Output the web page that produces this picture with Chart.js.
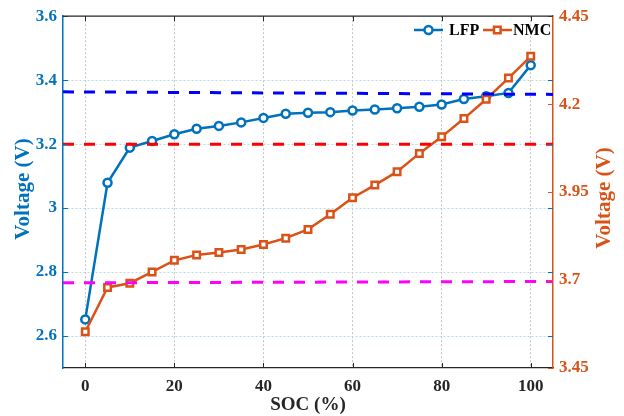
<!DOCTYPE html>
<html>
<head>
<meta charset="utf-8">
<script src="https://cdn.jsdelivr.net/npm/chart.js@4"></script>
<style>
  html, body { margin: 0; padding: 0; background: #fff; }
  #wrap { width: 624px; height: 416px; }
</style>
</head>
<body>
<div id="wrap"><canvas id="grafico" width="624" height="416"></canvas></div>
<script>
// dados
const soc = [0, 5, 10, 15, 20, 25, 30, 35, 40, 45, 50, 55, 60, 65, 70, 75, 80, 85, 90, 95, 100];
const lfp = [2.652, 3.079, 3.189, 3.21, 3.231, 3.248, 3.257, 3.268, 3.282, 3.295, 3.298, 3.3, 3.305, 3.308, 3.312, 3.317, 3.324, 3.341, 3.35, 3.36, 3.447];
const nmc = [3.553, 3.679, 3.691, 3.723, 3.756, 3.771, 3.778, 3.787, 3.801, 3.819, 3.844, 3.887, 3.934, 3.97, 4.008, 4.06, 4.107, 4.159, 4.214, 4.274, 4.336];

// linhas de referência tracejadas (extremos do eixo x)
const refX = [-5, 105];
const refAzul = [3.3635, 3.3555];
const refVermelha = [3.2, 3.2];
const refMagenta = [3.692, 3.696];

const xTicks = [0, 20, 40, 60, 80, 100];
const esqTicks = [2.6, 2.8, 3, 3.2, 3.4, 3.6];
const dirTicks = [3.45, 3.7, 3.95, 4.2, 4.45];

const AZUL = "#0072BD";
const LARANJA = "#D95319";
const FONTE = "'Liberation Serif', 'Times New Roman', serif";

function pares(xs, ys) {
  return xs.map((x, i) => ({ x: x, y: ys[i] }));
}

function fixarTicks(lista) {
  return (scale) => {
    scale.ticks = lista.map((v) => ({ value: v }));
  };
}

const extras = {
  id: "extras",
  afterDraw(chart) {
    const ctx = chart.ctx;
    const a = chart.chartArea;
    const sx = chart.scales.x;
    const sy = chart.scales.y;
    const sy2 = chart.scales.y2;
    ctx.save();

    // ticks para dentro
    ctx.lineWidth = 1;
    ctx.strokeStyle = AZUL;
    esqTicks.forEach((v) => {
      const y = Math.round(sy.getPixelForValue(v)) + 0.5;
      ctx.beginPath(); ctx.moveTo(a.left, y); ctx.lineTo(a.left + 5, y); ctx.stroke();
      ctx.beginPath(); ctx.moveTo(a.right, y); ctx.lineTo(a.right - 5, y); ctx.stroke();
    });
    ctx.strokeStyle = LARANJA;
    dirTicks.forEach((v) => {
      const y = Math.round(sy2.getPixelForValue(v)) + 0.5;
      ctx.beginPath(); ctx.moveTo(a.right, y); ctx.lineTo(a.right - 5, y); ctx.stroke();
    });
    ctx.strokeStyle = "#262626";
    xTicks.forEach((v) => {
      const x = Math.round(sx.getPixelForValue(v)) + 0.5;
      ctx.beginPath(); ctx.moveTo(x, a.bottom); ctx.lineTo(x, a.bottom - 5); ctx.stroke();
      ctx.beginPath(); ctx.moveTo(x, a.top); ctx.lineTo(x, a.top + 5); ctx.stroke();
    });

    // borda superior
    ctx.strokeStyle = "#262626";
    ctx.lineWidth = 1.2;
    ctx.beginPath(); ctx.moveTo(a.left, a.top); ctx.lineTo(a.right, a.top); ctx.stroke();

    // títulos dos eixos
    ctx.textAlign = "center";
    ctx.textBaseline = "middle";
    ctx.font = "bold 19px " + FONTE;
    ctx.fillStyle = "#262626";
    ctx.fillText("SOC (%)", 308, 405);

    ctx.font = "bold 21px " + FONTE;
    ctx.save();
    ctx.translate(24, 189);
    ctx.rotate(-Math.PI / 2);
    ctx.fillStyle = AZUL;
    ctx.fillText("Voltage (V)", 0, 0);
    ctx.restore();

    ctx.save();
    ctx.translate(605, 198);
    ctx.rotate(-Math.PI / 2);
    ctx.fillStyle = LARANJA;
    ctx.fillText("Voltage (V)", 0, 0);
    ctx.restore();

    // legenda
    const ly = 30;
    ctx.lineWidth = 2.5;
    ctx.strokeStyle = AZUL;
    ctx.beginPath(); ctx.moveTo(414, ly); ctx.lineTo(443, ly); ctx.stroke();
    ctx.fillStyle = "#fff";
    ctx.beginPath(); ctx.arc(428.5, ly, 4, 0, Math.PI * 2); ctx.fill(); ctx.stroke();
    ctx.strokeStyle = LARANJA;
    ctx.beginPath(); ctx.moveTo(483, ly); ctx.lineTo(512, ly); ctx.stroke();
    ctx.fillStyle = "#fff";
    ctx.beginPath(); ctx.rect(494, ly - 3.3, 6.6, 6.6); ctx.fill(); ctx.stroke();

    ctx.font = "bold 16px " + FONTE;
    ctx.textAlign = "left";
    ctx.fillStyle = "#000";
    ctx.fillText("LFP", 449, ly + 1);
    ctx.fillText("NMC", 513, ly + 1);

    ctx.restore();
  }
};

function montarGrafico() {
  const ctx = document.getElementById("grafico").getContext("2d");
  const fonteTick = { family: FONTE, size: 17, weight: "bold" };
  const tracejado = (cor, dados, eixo) => ({
    data: pares(refX, dados),
    yAxisID: eixo,
    borderColor: cor,
    borderWidth: 3,
    borderDash: [11, 10],
    pointRadius: 0,
    fill: false,
    order: 0
  });

  new Chart(ctx, {
    type: "line",
    data: {
      datasets: [
        tracejado("#0000FF", refAzul, "y"),
        tracejado("#FF0000", refVermelha, "y"),
        tracejado("#FF00FF", refMagenta, "y2"),
        {
          label: "LFP",
          data: pares(soc, lfp),
          yAxisID: "y",
          borderColor: AZUL,
          borderWidth: 2.5,
          pointStyle: "circle",
          pointRadius: 4,
          pointBorderWidth: 2.5,
          pointBackgroundColor: "#fff",
          pointBorderColor: AZUL,
          order: 2
        },
        {
          label: "NMC",
          data: pares(soc, nmc),
          yAxisID: "y2",
          borderColor: LARANJA,
          borderWidth: 2.5,
          pointStyle: "rect",
          pointRadius: 4.6,
          pointBorderWidth: 2.5,
          pointBackgroundColor: "#fff",
          pointBorderColor: LARANJA,
          order: 1
        }
      ]
    },
    options: {
      responsive: false,
      animation: false,
      devicePixelRatio: 1,
      layout: { padding: { top: 16, left: 0, right: 0, bottom: 0 } },
      plugins: { legend: { display: false }, tooltip: { enabled: false } },
      elements: { line: { tension: 0 } },
      scales: {
        x: {
          type: "linear",
          min: -5,
          max: 105,
          afterBuildTicks: fixarTicks(xTicks),
          afterFit: (s) => { s.height = 48; },
          grid: { color: "#c4c4c4", lineWidth: 1, drawTicks: false },
          border: { color: "#262626", width: 1.2, dash: [2, 2] },
          ticks: { color: "#262626", font: fonteTick, padding: 8, maxRotation: 0 }
        },
        y: {
          position: "left",
          min: 2.5,
          max: 3.6,
          afterBuildTicks: fixarTicks(esqTicks),
          afterFit: (s) => { s.width = 63; },
          grid: {
            color: (c) => (c.tick && c.tick.value === 3.6 ? "rgba(0,0,0,0)" : "#bcd6ea"),
            lineWidth: 1,
            drawTicks: false
          },
          border: { color: AZUL, width: 1.5, dash: [2, 2] },
          ticks: {
            color: AZUL,
            font: fonteTick,
            padding: 6,
            callback: (v) => String(Math.round(v * 10) / 10)
          }
        },
        y2: {
          position: "right",
          min: 3.45,
          max: 4.45,
          afterBuildTicks: fixarTicks(dirTicks),
          afterFit: (s) => { s.width = 71; },
          grid: { display: false, drawTicks: false },
          border: { color: LARANJA, width: 1.5 },
          ticks: {
            color: LARANJA,
            font: fonteTick,
            padding: 6,
            callback: (v) => String(Math.round(v * 100) / 100)
          }
        }
      }
    },
    plugins: [extras]
  });
}

document.addEventListener("DOMContentLoaded", montarGrafico);
</script>
</body>
</html>
